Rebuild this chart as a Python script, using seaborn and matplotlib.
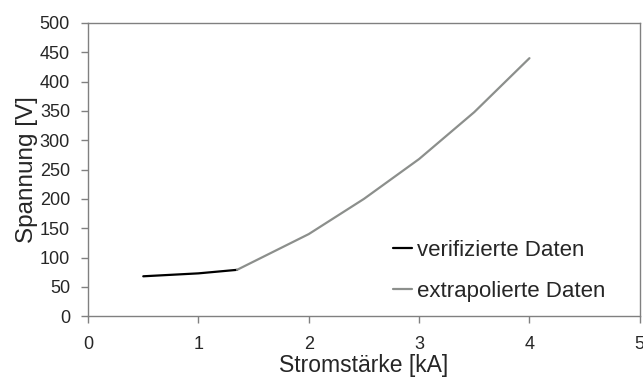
import matplotlib
matplotlib.use("Agg")
import matplotlib.pyplot as plt
import pandas as pd
import seaborn as sns

# verified measurements
strom_verifiziert = [0.5, 1.0, 1.35]
spannung_verifiziert = [68, 73, 79]

# extrapolated curve
strom_extrapoliert = [1.35, 2.0, 2.5, 3.0, 3.5, 4.0]
spannung_extrapoliert = [79, 140, 200, 268, 348, 440]

series_names = ["verifizierte Daten", "extrapolierte Daten"]
series_colors = ["#000000", "#8c8f8c"]

df = pd.concat([
    pd.DataFrame({"strom": strom_verifiziert, "spannung": spannung_verifiziert, "serie": series_names[0]}),
    pd.DataFrame({"strom": strom_extrapoliert, "spannung": spannung_extrapoliert, "serie": series_names[1]}),
])

sns.set_style("white")
plt.rcParams["font.family"] = ["Liberation Sans", "DejaVu Sans"]

fig = plt.figure(figsize=(6.43, 3.8), dpi=100)
ax = fig.add_axes([0.137, 0.168, 0.858, 0.7715])

sns.lineplot(data=df, x="strom", y="spannung", hue="serie", hue_order=series_names,
             palette=dict(zip(series_names, series_colors)), linewidth=1.6,
             sort=False, ax=ax)

ax.set_xlim(0, 5)
ax.set_ylim(0, 500)
ax.set_xticks(range(0, 6))
ax.set_yticks(range(0, 501, 50))
ax.set_xlabel("Stromstärke [kA]", fontsize=16.5, labelpad=1)
ax.set_ylabel("Spannung [V]", fontsize=17.5, labelpad=1)

for side in ["left", "bottom", "top", "right"]:
    ax.spines[side].set_visible(True)
    ax.spines[side].set_color("#808080")
    ax.spines[side].set_linewidth(1.0)

ax.tick_params(axis="y", direction="out", length=5, width=1, color="#808080", labelsize=13, pad=8, left=True)
ax.tick_params(axis="x", direction="out", length=5, width=1, color="#808080", labelsize=13, pad=9, bottom=True)

leg = ax.legend(loc="center left", bbox_to_anchor=(0.5525, 0.154), frameon=False, fontsize=16,
                handlelength=0.85, handletextpad=0.25, labelspacing=0.9,
                borderaxespad=0, borderpad=0)
for line in leg.get_lines():
    line.set_linewidth(1.6)

fig.savefig("out.png", dpi=100)
